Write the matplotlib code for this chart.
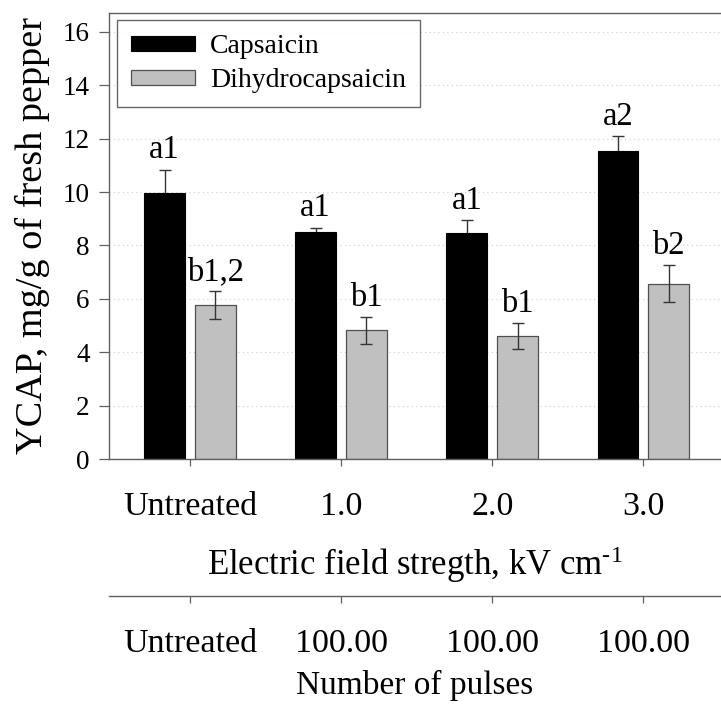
import matplotlib
matplotlib.use("Agg")
import matplotlib.pyplot as plt
from matplotlib.ticker import FixedLocator, FixedFormatter
import numpy as np

plt.rcParams["font.family"] = ["Liberation Serif", "DejaVu Serif"]
plt.rcParams["mathtext.fontset"] = "custom"
plt.rcParams["mathtext.rm"] = "Liberation Serif"
plt.rcParams["mathtext.it"] = "Liberation Serif:italic"
plt.rcParams["mathtext.bf"] = "Liberation Serif:bold"

# Treatment groups
field_labels = ["Untreated", "1.0", "2.0", "3.0"]
pulse_labels = ["Untreated", "100.00", "100.00", "100.00"]
y_ticks = [0, 2, 4, 6, 8, 10, 12, 14, 16]

# YCAP (mg/g of fresh pepper) and standard deviations
capsaicin = [9.97, 8.52, 8.47, 11.53]
capsaicin_err = [0.87, 0.15, 0.49, 0.58]
dihydro = [5.76, 4.82, 4.61, 6.57]
dihydro_err = [0.52, 0.50, 0.50, 0.70]

# Significance letters
cap_letters = ["a1", "a1", "a1", "a2"]
dih_letters = ["b1,2", "b1", "b1", "b2"]

W, H = 721, 704
fig = plt.figure(figsize=(W / 100, H / 100), dpi=100)
left, right, top, bottom = 109, 721, 12.7, 459.3
ax = fig.add_axes([left / W, 1 - bottom / H, (right - left) / W, (bottom - top) / H])

x = np.arange(len(field_labels))
bw = 0.27
off = 0.168
spine_col = "#606060"
err_col = "#353535"

# capsaicin error bars sit behind the black bars, so only the upper half shows
ax.errorbar(x - off, capsaicin, yerr=capsaicin_err, fmt="none", ecolor=err_col,
            elinewidth=1.0, capsize=4.5, capthick=1.0, zorder=1.5)
ax.bar(x - off, capsaicin, bw, color="black", edgecolor="black", linewidth=0.8,
       label="Capsaicin", zorder=2)
ax.bar(x + off, dihydro, bw, color="#c0c0c0", edgecolor="#505050", linewidth=0.9,
       label="Dihydrocapsaicin", zorder=2)
ax.errorbar(x + off, dihydro, yerr=dihydro_err, fmt="none", ecolor=err_col,
            elinewidth=1.0, capsize=4.5, capthick=1.0, zorder=3)

for xi, v, e, t in zip(x - off, capsaicin, capsaicin_err, cap_letters):
    ax.annotate(t, (xi, v + e), xytext=(0, 8), textcoords="offset points",
                ha="center", va="baseline", fontsize=23.5, zorder=4)
for xi, v, e, t in zip(x + off, dihydro, dihydro_err, dih_letters):
    ax.annotate(t, (xi, v + e), xytext=(0, 8), textcoords="offset points",
                ha="center", va="baseline", fontsize=23.5, zorder=4)

ax.set_ylim(0, 16.71)
ax.set_xlim(-0.536, 3.514)
ax.yaxis.set_major_locator(FixedLocator(y_ticks))
ax.yaxis.set_major_formatter(FixedFormatter([str(v) for v in y_ticks]))
ax.tick_params(axis="y", labelsize=19.5, length=7, width=0.9, color=spine_col, pad=7)
ax.set_xticks(x)
ax.set_xticklabels(field_labels)
ax.tick_params(axis="x", labelsize=24.5, length=5, width=0.9, color=spine_col, pad=18)
ax.yaxis.grid(True, linestyle=(0, (1, 3)), color="#cccccc", linewidth=0.8)
ax.set_axisbelow(True)

for s in ["left", "top", "bottom"]:
    ax.spines[s].set_color(spine_col)
    ax.spines[s].set_linewidth(1.0)
ax.spines["right"].set_visible(False)

ax.set_ylabel("YCAP, mg/g of fresh pepper", fontsize=27.5, labelpad=9)
ax.set_xlabel(r"Electric field stregth, kV cm$^{\text{-1}}$", fontsize=25, labelpad=16)

leg = ax.legend(loc="upper left", bbox_to_anchor=(0.013, 0.983), fontsize=20,
                frameon=True, fancybox=False, edgecolor="#404040",
                handlelength=2.3, handleheight=0.45, labelspacing=0.33,
                handletextpad=0.55, borderpad=0.5, borderaxespad=0)
leg.get_frame().set_linewidth(1.0)

# Second axis: number of pulses
ax2 = ax.twiny()
ax2.set_xlim(ax.get_xlim())
ax2.xaxis.set_ticks_position("bottom")
ax2.xaxis.set_label_position("bottom")
ax2.spines["bottom"].set_position(("outward", 98.5))
for s in ["left", "right", "top"]:
    ax2.spines[s].set_visible(False)
ax2.spines["bottom"].set_color(spine_col)
ax2.spines["bottom"].set_linewidth(1.0)
ax2.set_xticks(x)
ax2.set_xticklabels(pulse_labels)
ax2.tick_params(axis="x", labelsize=24.5, length=5, width=0.9, color=spine_col, pad=18)
ax2.set_xlabel("Number of pulses", fontsize=24, labelpad=8)

fig.savefig("out.png", dpi=100)
